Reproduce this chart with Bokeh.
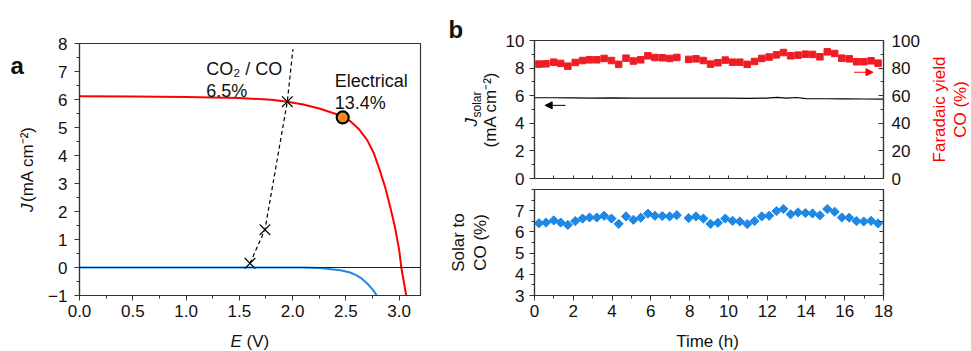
from math import pi
import numpy as np
from bokeh.plotting import figure
from bokeh.models import Range1d, LinearAxis, Label, FixedTicker, Arrow, NormalHead, Span
from bokeh.layouts import row, column
from bokeh.embed import file_html
from bokeh.resources import INLINE

FONT = "Liberation Sans"
TICK_FS = "17px"
LAB_FS = "17px"
ANN_FS = "18px"
FRAME = "#333333"

# ---------------- panel a data ----------------
pv_E = [0.0, 0.5, 1.0, 1.5, 1.8, 1.95, 2.1, 2.25, 2.4, 2.48, 2.55, 2.62, 2.7, 2.76,
        2.82, 2.87, 2.92, 2.96, 3.0, 3.02, 3.066]
pv_J = [6.12, 6.11, 6.09, 6.05, 5.99, 5.92, 5.82, 5.68, 5.49, 5.37, 5.2, 4.95, 4.55, 4.1,
        3.45, 2.85, 2.1, 1.45, 0.62, 0.0, -1.0]
dark_E = [0.0, 2.1, 2.25, 2.36, 2.45, 2.54, 2.6, 2.65, 2.7, 2.75, 2.79]
dark_J = [0.0, 0.0, -0.02, -0.06, -0.1, -0.18, -0.28, -0.4, -0.57, -0.78, -1.0]
load_E = [1.6, 1.74, 1.95, 2.003]
load_J = [0.15, 1.35, 5.92, 7.8]
op_E = [1.6, 1.74, 1.95]
op_J = [0.15, 1.35, 5.92]
mpp_E = [2.47]
mpp_J = [5.36]
a_xticks = [0.0, 0.5, 1.0, 1.5, 2.0, 2.5, 3.0]
a_xlabels = ["0.0", "0.5", "1.0", "1.5", "2.0", "2.5", "3.0"]
a_yticks = [-1, 0, 1, 2, 3, 4, 5, 6, 7, 8]
a_ylabels = ["\u22121", "0", "1", "2", "3", "4", "5", "6", "7", "8"]

# ---------------- panel b data ----------------
time_h = [0.23, 0.59, 0.99, 1.35, 1.72, 2.10, 2.48, 2.84, 3.21, 3.59, 3.97, 4.34, 4.72,
          5.10, 5.48, 5.85, 6.21, 6.59, 6.97, 7.34, 7.95, 8.33, 8.71, 9.08, 9.46, 9.84,
          10.22, 10.59, 10.97, 11.35, 11.72, 12.10, 12.48, 12.84, 13.21, 13.59, 13.97,
          14.34, 14.72, 15.10, 15.48, 15.85, 16.23, 16.61, 16.98, 17.36, 17.72]
fe_co = [82.9, 83.1, 84.3, 83.4, 81.4, 84.1, 85.5, 86.0, 86.0, 87.0, 85.5, 82.7, 87.2,
         85.1, 86.0, 88.9, 87.7, 87.5, 87.0, 87.7, 86.3, 86.7, 85.5, 82.9, 83.9, 85.8,
         84.3, 84.3, 82.7, 84.8, 87.0, 88.0, 89.6, 91.3, 88.9, 89.4, 90.1, 89.9, 88.2,
         91.8, 90.6, 87.2, 86.7, 84.6, 84.6, 85.3, 83.6]
stc = [6.41, 6.44, 6.54, 6.44, 6.33, 6.51, 6.63, 6.68, 6.68, 6.76, 6.63, 6.38, 6.73,
       6.57, 6.67, 6.86, 6.76, 6.75, 6.73, 6.79, 6.65, 6.73, 6.63, 6.38, 6.43, 6.63,
       6.52, 6.49, 6.37, 6.51, 6.73, 6.76, 6.98, 7.08, 6.83, 6.92, 6.89, 6.87, 6.78,
       7.08, 6.95, 6.68, 6.67, 6.51, 6.49, 6.52, 6.40]
js_t = [0, 1, 2, 3, 4, 5, 6, 7, 8, 9, 10, 11, 12, 12.5, 13, 13.5, 14, 15, 16, 17, 18]
js_v = [5.85, 5.85, 5.84, 5.83, 5.84, 5.82, 5.82, 5.83, 5.83, 5.82, 5.83, 5.81, 5.82,
        5.88, 5.83, 5.87, 5.79, 5.78, 5.77, 5.76, 5.75]
b_xticks = [0, 2, 4, 6, 8, 10, 12, 14, 16, 18]
b1_yticks = [0, 2, 4, 6, 8, 10]
b1_rticks = [0, 20, 40, 60, 80, 100]
b2_yticks = [3, 4, 5, 6, 7]

RED = "#ff0000"
SQ_RED = "#ee1c24"
BLUE = "#1e88e5"


def style_axis(ax, ticks, minor, labels=None, tin=0, tout=5, min_in=0, min_out=3,
               standoff=6):
    ax.ticker = FixedTicker(ticks=ticks, minor_ticks=minor)
    if labels is not None:
        ax.major_label_overrides = {t: l for t, l in zip(ticks, labels)}
    ax.major_tick_in = tin
    ax.major_tick_out = tout
    ax.minor_tick_in = min_in
    ax.minor_tick_out = min_out
    ax.major_tick_line_color = FRAME
    ax.minor_tick_line_color = FRAME
    ax.axis_line_color = FRAME
    ax.axis_line_width = 1.2
    ax.major_label_standoff = standoff
    ax.major_label_text_font = FONT
    ax.major_label_text_color = "#111111"
    ax.major_label_text_font_size = TICK_FS


def base_fig(**kw):
    p = figure(output_backend="svg", toolbar_location=None, **kw)
    p.xgrid.visible = False
    p.ygrid.visible = False
    p.outline_line_color = FRAME
    p.outline_line_width = 1.2
    p.background_fill_color = "white"
    p.border_fill_color = "white"
    return p


def text_fig(w, h):
    # blank canvas used only to carry text outside the plotting frames
    p = figure(width=w, height=h, x_range=Range1d(0, w), y_range=Range1d(0, h),
               x_axis_location=None, y_axis_location=None, output_backend="svg",
               toolbar_location=None, min_border=0)
    p.outline_line_color = None
    p.grid.visible = False
    p.background_fill_color = "white"
    p.border_fill_color = "white"
    return p


def lab(p, x, y, text, size=LAB_FS, angle=0, align="left", baseline="alphabetic",
        style="normal", color="#111111", **kw):
    p.add_layout(Label(x=x, y=y, text=text, angle=angle, text_align=align,
                       text_baseline=baseline, text_font=FONT, text_font_size=size,
                       text_font_style=style, text_color=color, **kw))


# ---------------- panel a ----------------
pa = base_fig(width=396, height=326, x_range=Range1d(0, 3.2), y_range=Range1d(-1, 8),
              min_border_left=35, min_border_right=20, min_border_top=43,
              min_border_bottom=31)
style_axis(pa.xaxis[0], a_xticks, list(np.arange(0, 3.21, 0.25)), a_xlabels, standoff=4)
style_axis(pa.yaxis[0], a_yticks, list(np.arange(-1, 8.01, 0.5)), a_ylabels, standoff=7)

pa.add_layout(Span(location=0, dimension="width", line_color="#222222", line_width=1.2))
pa.line(dark_E, dark_J, line_color=BLUE, line_width=2)
pa.line(pv_E, pv_J, line_color=RED, line_width=2)
pa.line(load_E, load_J, line_color="black", line_width=1.2, line_dash="4 3")
pa.scatter(op_E, op_J, marker="x", size=15, line_color="black", line_width=1.2)
pa.scatter(mpp_E, mpp_J, marker="circle", size=12, fill_color="#ff8c1a",
           line_color="black", line_width=2.2)

lab(pa, 1.19, 7.1, "CO\u2082 / CO", size=ANN_FS)
lab(pa, 1.19, 6.3, "6.5%", size=ANN_FS)
lab(pa, 2.395, 6.66, "Electrical", size=ANN_FS)
lab(pa, 2.395, 5.89, "13.4%", size=ANN_FS)

# text strips around panel a (pixel coordinates inside each strip)
la = text_fig(44, 326)
lab(la, 10, 297, "a", size="24px", style="bold")
lab(la, 27, 108, "J", angle=pi / 2, baseline="middle", style="italic")
lab(la, 27, 121, "(mA cm\u207b\u00b2)", angle=pi / 2, baseline="middle")
ba = text_fig(440, 25)
lab(ba, 230, 10, "E", baseline="middle", style="italic")
lab(ba, 246, 10, "(V)", baseline="middle")

# ---------------- panel b top ----------------
xr = Range1d(0, 18)
pb1 = base_fig(width=420, height=188, x_range=xr, y_range=Range1d(0, 10),
               min_border_left=29, min_border_right=38, min_border_top=40,
               min_border_bottom=10)
pb1.extra_y_ranges = {"fy": Range1d(0, 100)}
raxis = LinearAxis(y_range_name="fy")
pb1.add_layout(raxis, "right")
style_axis(pb1.xaxis[0], [], list(range(0, 19)), min_in=3, min_out=0, tout=0)
style_axis(pb1.yaxis[0], b1_yticks, list(range(0, 11)), standoff=5)
style_axis(raxis, b1_rticks, list(range(0, 101, 10)), tin=5, tout=0, min_in=3,
           min_out=0, standoff=8)

pb1.line(js_t, js_v, line_color="black", line_width=1.2)
pb1.scatter(time_h, fe_co, y_range_name="fy", marker="square", size=6.5,
            fill_color=SQ_RED, line_color=SQ_RED)

pb1.add_layout(Arrow(end=NormalHead(size=7, fill_color="black", line_color="black"),
                     x_start=1.6, y_start=5.3, x_end=0.55, y_end=5.3,
                     line_color="black", line_width=1))
pb1.add_layout(Arrow(end=NormalHead(size=7, fill_color=RED, line_color=RED),
                     x_start=16.48, y_start=77, x_end=17.46, y_end=77,
                     y_range_name="fy", line_color=RED, line_width=1))

# ---------------- panel b bottom ----------------
pb2 = base_fig(width=420, height=138, x_range=xr, y_range=Range1d(3, 8),
               min_border_left=29, min_border_right=38, min_border_top=1,
               min_border_bottom=31)
raxis2 = LinearAxis()
pb2.add_layout(raxis2, "right")
style_axis(pb2.xaxis[0], b_xticks, list(range(0, 19)), standoff=4)
style_axis(pb2.yaxis[0], b2_yticks, list(np.arange(3, 8.01, 0.5)), standoff=5)
style_axis(raxis2, [], list(np.arange(3, 8.01, 0.5)), tin=0, tout=0, min_in=4,
           min_out=0)

pb2.scatter(time_h, stc, marker="square", angle=pi / 4, size=6.5,
            fill_color=BLUE, line_color=BLUE)

# text strips around panel b
lb = text_fig(62, 326)
lab(lb, 8, 297, "b", size="24px", style="bold")
lab(lb, 31, 200, "J", angle=pi / 2, baseline="middle", style="italic")
lab(lb, 36, 209, "solar", size="12px", angle=pi / 2, baseline="middle")
lab(lb, 50, 217, "(mA cm\u207b\u00b2)", angle=pi / 2, align="center", baseline="middle")
lab(lb, 18, 84, "Solar to", angle=pi / 2, align="center", baseline="middle")
lab(lb, 40, 84, "CO (%)", angle=pi / 2, align="center", baseline="middle")
rb = text_fig(49, 326)
lab(rb, 17, 217, "Faradaic yield", angle=pi / 2, align="center", baseline="middle",
    color=RED)
lab(rb, 38, 217, "CO (%)", angle=pi / 2, align="center", baseline="middle", color=RED)
bb = text_fig(531, 25)
lab(bb, 267, 10, "Time (h)", align="center", baseline="middle")

left = column(row(la, pa), ba)
right = column(row(lb, column(pb1, pb2), rb), bb)
layout = row(left, right)
open("out.html", "w").write(file_html(layout, INLINE))
